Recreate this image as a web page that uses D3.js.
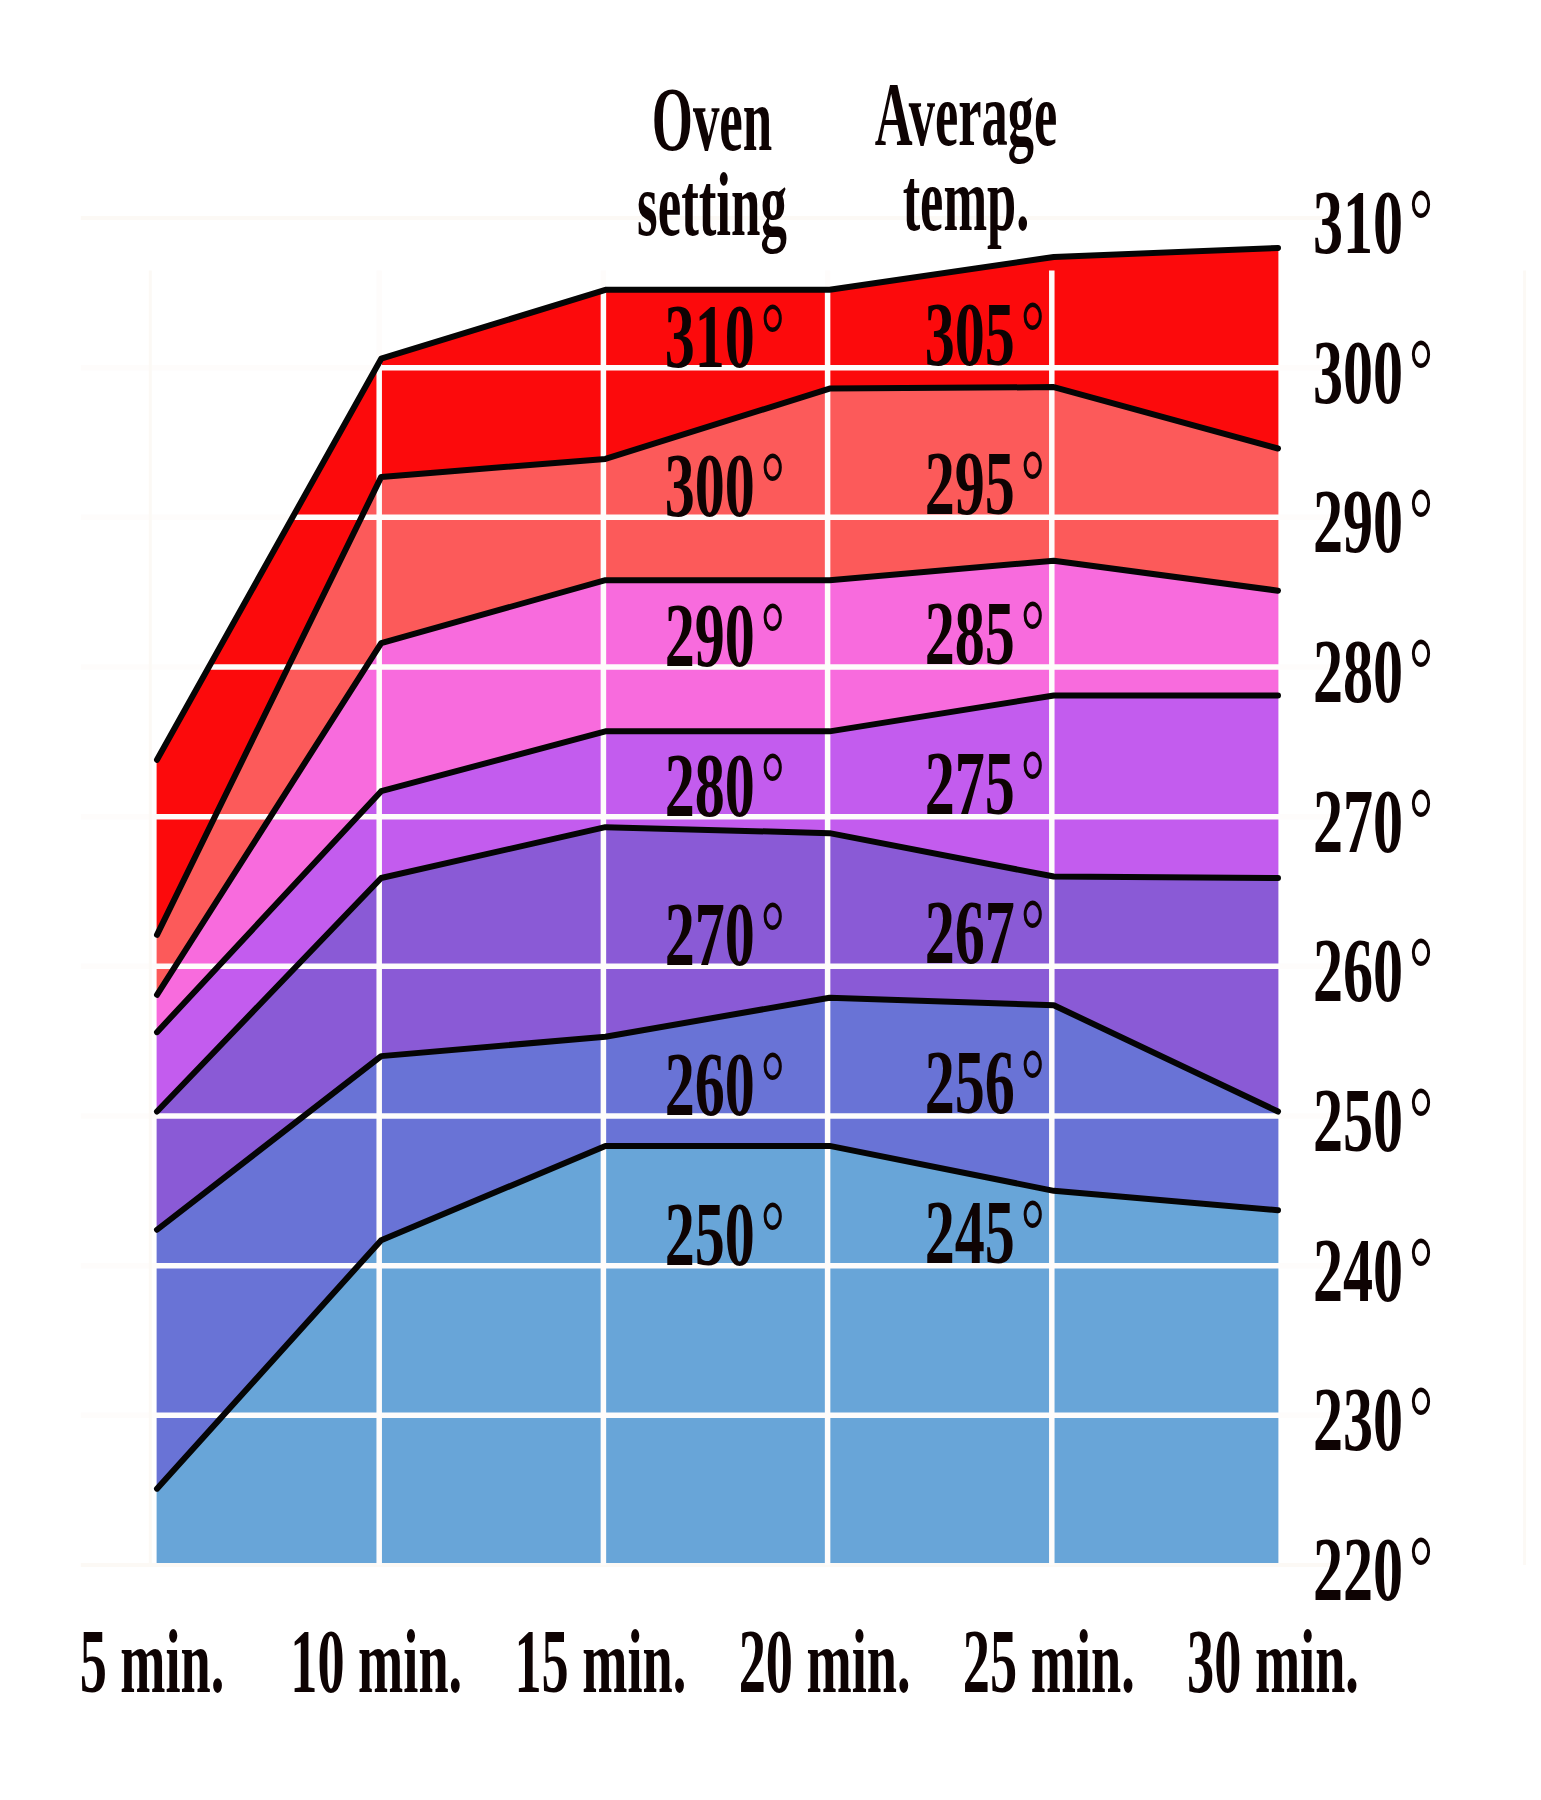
<!DOCTYPE html>
<html>
<head>
<meta charset="utf-8">
<script src="https://cdn.jsdelivr.net/npm/d3@7"></script>
<style>
  html, body { margin: 0; padding: 0; background: #ffffff; }
  svg { display: block; }
  text { font-family: "Liberation Serif", "DejaVu Serif", serif; font-weight: bold; fill: #0e0303; }
  tspan.deg { font-weight: normal; }
</style>
</head>
<body>
<svg id="chart" width="1541" height="1800"></svg>
<script>
// ---------- data ----------
const minutes = [5, 10, 15, 20, 25, 30];
const xTickLabels = ["5 min.", "10 min.", "15 min.", "20 min.", "25 min.", "30 min."];
const yTicks = [220, 230, 240, 250, 260, 270, 280, 290, 300, 310];

// boundary lines, top to bottom (temperature readings at each time)
const line310 = [273.8, 300.6, 305.2, 305.2, 307.4, 308.0];
const line300 = [262.1, 292.7, 293.9, 298.6, 298.7, 294.6];
const line290 = [258.1, 281.6, 285.8, 285.8, 287.1, 285.1];
const line280 = [255.6, 271.7, 275.7, 275.7, 278.1, 278.1];
const line270 = [250.3, 265.9, 269.3, 268.9, 266.0, 265.9];
const line260 = [242.4, 254.0, 255.3, 257.9, 257.4, 250.3];
const line250 = [225.1, 241.7, 248.0, 248.0, 245.0, 243.7];
const baseline = [220, 220, 220, 220, 220, 220];

const ovenSettings = [310, 300, 290, 280, 270, 260, 250];
const averageTemps = [305, 295, 285, 275, 267, 256, 245];
const bandColors = ["#fc0a0c", "#fc5a5a", "#f86bdd", "#c35cee", "#8a5ad6", "#6973d6", "#68a5d8"];

const headerOven = ["Oven", "setting"];
const headerAvg = ["Average", "temp."];

// ---------- layout ----------
const svg = d3.select("#chart");
const x = d3.scaleLinear().domain([5, 30]).range([157, 1278]);
const y = d3.scaleLinear().domain([220, 310]).range([1565, 218]);

const lines = [line310, line300, line290, line280, line270, line260, line250, baseline];

// ---------- bands ----------
const area = d3.area()
  .x(d => x(d.m))
  .y0(d => y(d.lo))
  .y1(d => y(d.hi))
  .curve(d3.curveLinear);

const bands = d3.range(7).map(i => minutes.map((m, j) => ({ m, hi: lines[i][j], lo: lines[i + 1][j] })));

svg.append("g").selectAll("path")
  .data(bands)
  .join("path")
  .attr("d", area)
  .attr("fill", (d, i) => bandColors[i])
  .attr("stroke", (d, i) => bandColors[i])
  .attr("stroke-width", 0.8);

// ---------- grid ----------
const grid = svg.append("g");
grid.selectAll("line.h")
  .data(yTicks)
  .join("line")
  .attr("class", "h")
  .attr("x1", x(3.3)).attr("x2", x(31.2))
  .attr("y1", d => y(d)).attr("y2", d => y(d))
  .attr("stroke", d => (d === 220 || d === 310) ? "#fcf9f5" : "#fefcfb")
  .attr("stroke-width", d => (d === 220 || d === 310) ? 4 : 5.5);

grid.selectAll("line.v")
  .data(minutes.slice(1, 5))
  .join("line")
  .attr("class", "v")
  .attr("x1", d => x(d) - 2).attr("x2", d => x(d) - 2)
  .attr("y1", y(306.5)).attr("y2", y(220))
  .attr("stroke", "#fefcfb")
  .attr("stroke-width", 5.5);

grid.append("line")
  .attr("x1", x(4.85)).attr("x2", x(4.85))
  .attr("y1", y(306.5)).attr("y2", y(220))
  .attr("stroke", "#fcf9f5").attr("stroke-width", 3);
grid.append("line")
  .attr("x1", x(35.5)).attr("x2", x(35.5))
  .attr("y1", y(306.5)).attr("y2", y(220))
  .attr("stroke", "#fcf9f5").attr("stroke-width", 3);

// ---------- boundary lines ----------
const lineGen = d3.line().x((d, j) => x(minutes[j])).y(d => y(d));
svg.append("g").selectAll("path")
  .data(lines.slice(0, 7))
  .join("path")
  .attr("d", lineGen)
  .attr("fill", "none")
  .attr("stroke", "#050505")
  .attr("stroke-width", 6)
  .attr("stroke-linecap", "round")
  .attr("stroke-linejoin", "round");

// ---------- text helpers ----------
function label(g, txt, px, py, size, sx, anchor) {
  return g.append("text")
    .attr("transform", `translate(${px},${py}) scale(${sx},1)`)
    .attr("text-anchor", anchor)
    .attr("font-size", size)
    .text(txt);
}
function degLabel(g, v, px, py, size, sx, anchor) {
  const t = g.append("text")
    .attr("transform", `translate(${px},${py}) scale(${sx},1)`)
    .attr("text-anchor", anchor)
    .attr("font-size", size);
  t.append("tspan").text(v);
  t.append("tspan").attr("class", "deg").attr("dx", 9).attr("dy", -2).text("°");
  return t;
}

const txt = svg.append("g");

// right axis tick labels
yTicks.forEach(t => degLabel(txt, t, 1313, y(t) + 35, 91, 0.66, "start"));

// bottom axis labels
minutes.forEach((m, i) => label(txt, xTickLabels[i], x(m) - 5, 1692, 92, 0.59, "middle"));

// band labels
ovenSettings.forEach((v, i) => degLabel(txt, v, x(19), y(v - 10) - 1, 91, 0.66, "end"));
averageTemps.forEach((v, i) => degLabel(txt, v, x(24.8), y(ovenSettings[i] - 10) - 3, 91, 0.66, "end"));

// column headers: smaller font stretched vertically so the stacked lines keep their look
function header(g, linesTxt, px, py, size, sx, sy, gap) {
  const t = g.append("text")
    .attr("transform", `translate(${px},${py}) scale(${sx},${sy})`)
    .attr("text-anchor", "middle")
    .attr("font-size", size);
  linesTxt.forEach((s, i) => t.append("tspan").attr("x", 0).attr("dy", i === 0 ? 0 : gap).text(s));
}
header(txt, headerOven, 712, 150, 76, 0.575 * 92 / 76, 92 / 76, 85 * 76 / 92);
header(txt, headerAvg, 966, 145, 76, 0.57 * 92 / 76, 92 / 76, 85 * 76 / 92);
</script>
</body>
</html>
